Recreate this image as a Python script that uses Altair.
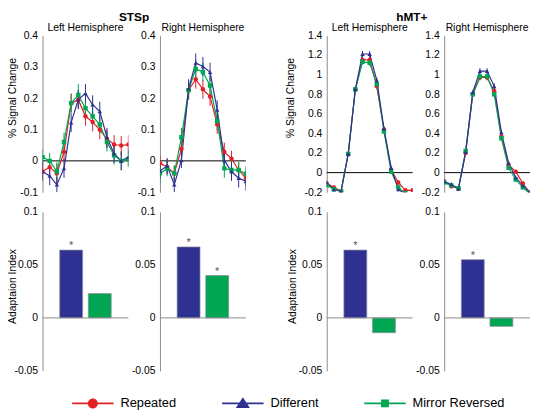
import altair as alt
import pandas as pd

FONT = "Liberation Sans"
RED, BLUE, GREEN = "#e31f26", "#2e3192", "#00a651"

series_names = ["Repeated", "Different", "Mirror Reversed"]
series_colors = [RED, BLUE, GREEN]
series_shapes = ["circle", "triangle-up", "square"]

time = list(range(13))

# ---- STSp, left hemisphere
stsp_l_rep = [-0.034, -0.020, -0.040, 0.028, 0.184, 0.195, 0.142, 0.124, 0.099, 0.070, 0.052, 0.049, 0.052]
stsp_l_dif = [-0.034, -0.048, -0.076, -0.024, 0.122, 0.195, 0.215, 0.179, 0.158, 0.075, 0.023, 0.000, 0.012]
stsp_l_mir = [0.012, 0.000, -0.034, 0.060, 0.184, 0.210, 0.168, 0.142, 0.116, 0.060, 0.018, 0.000, 0.006]
stsp_l_rep_err = [0.025, 0.025, 0.030, 0.030, 0.030, 0.030, 0.030, 0.030, 0.030, 0.030, 0.030, 0.030, 0.030]
stsp_l_dif_err = [0.030, 0.030, 0.025, 0.030, 0.030, 0.030, 0.030, 0.030, 0.030, 0.030, 0.030, 0.030, 0.030]
stsp_l_mir_err = [0.025, 0.025, 0.030, 0.030, 0.030, 0.035, 0.030, 0.030, 0.030, 0.030, 0.030, 0.030, 0.025]

# ---- STSp, right hemisphere
stsp_r_rep = [-0.008, -0.019, -0.040, 0.038, 0.225, 0.260, 0.228, 0.205, 0.116, 0.028, 0.007, -0.029, -0.055]
stsp_r_dif = [-0.032, -0.016, -0.076, 0.002, 0.230, 0.312, 0.301, 0.283, 0.163, 0.002, -0.034, -0.055, -0.065]
stsp_r_mir = [-0.040, -0.024, -0.040, 0.075, 0.225, 0.293, 0.283, 0.240, 0.127, -0.024, -0.029, -0.029, -0.042]
stsp_r_rep_err = [0.025, 0.025, 0.025, 0.030, 0.030, 0.030, 0.030, 0.030, 0.030, 0.030, 0.025, 0.025, 0.025]
stsp_r_dif_err = [0.025, 0.025, 0.025, 0.025, 0.030, 0.030, 0.030, 0.030, 0.030, 0.030, 0.030, 0.030, 0.030]
stsp_r_mir_err = [0.030, 0.025, 0.025, 0.030, 0.030, 0.030, 0.030, 0.030, 0.030, 0.030, 0.030, 0.025, 0.025]

# ---- hMT+, left hemisphere
hmt_l_rep = [-0.11, -0.15, -0.19, 0.19, 0.85, 1.15, 1.15, 0.88, 0.44, 0.03, -0.10, -0.18, -0.18]
hmt_l_dif = [-0.10, -0.17, -0.19, 0.19, 0.85, 1.21, 1.21, 0.94, 0.45, 0.05, -0.17, -0.22, -0.24]
hmt_l_mir = [-0.13, -0.17, -0.19, 0.19, 0.85, 1.13, 1.12, 0.90, 0.42, 0.01, -0.15, -0.21, -0.23]
hmt_l_err = [0.02, 0.02, 0.02, 0.02, 0.02, 0.03, 0.03, 0.03, 0.02, 0.02, 0.02, 0.02, 0.02]

# ---- hMT+, right hemisphere
hmt_r_rep = [-0.09, -0.14, -0.16, 0.20, 0.80, 0.97, 0.97, 0.83, 0.37, 0.08, 0.01, -0.11, -0.21]
hmt_r_dif = [-0.09, -0.12, -0.165, 0.21, 0.82, 1.035, 1.035, 0.88, 0.41, 0.10, -0.05, -0.13, -0.20]
hmt_r_mir = [-0.10, -0.13, -0.16, 0.22, 0.80, 0.98, 0.98, 0.80, 0.35, 0.05, -0.07, -0.15, -0.22]
hmt_r_err = [0.02, 0.02, 0.02, 0.02, 0.02, 0.03, 0.03, 0.03, 0.02, 0.02, 0.02, 0.02, 0.02]

# ---- Adaptation index bars
bar_conditions = ["Different", "Mirror Reversed"]
bar_positions = [1, 2]
bar_colors = [BLUE, GREEN]
bar_stsp_l = [0.064, 0.023]
bar_stsp_r = [0.067, 0.040]
bar_hmt_l = [0.064, -0.014]
bar_hmt_r = [0.055, -0.008]
star_stsp_l = ["*", ""]
star_stsp_r = ["*", "*"]
star_hmt_l = ["*", ""]
star_hmt_r = ["*", ""]

# legend symbols: a line with the marker in the middle (unit box -1..1)
LINE = "M-1,-0.045 L1,-0.045 L1,0.045 L-1,0.045 Z "
legend_paths = [
    LINE + "M-0.24,0 A0.24,0.24 0 1,1 0.24,0 A0.24,0.24 0 1,1 -0.24,0 Z",
    LINE + "M0,-0.3 L0.34,0.22 L-0.34,0.22 Z",
    LINE + "M-0.19,-0.19 L0.19,-0.19 L0.19,0.19 L-0.19,0.19 Z",
]


def line_df(rep, dif, mir, erep, edif, emir):
    rows = []
    # drawing order: red, green, blue (blue on top)
    for name, vals, errs, col, shp in [
        ("Repeated", rep, erep, RED, "circle"),
        ("Mirror Reversed", mir, emir, GREEN, "square"),
        ("Different", dif, edif, BLUE, "triangle-up"),
    ]:
        for t, v, e in zip(time, vals, errs):
            rows.append(dict(t=t, v=v, lo=v - e, hi=v + e, series=name, col=col, shp=shp))
    return pd.DataFrame(rows)


def fmt_expr():
    return "datum.value < 0 ? '-' + format(-datum.value, '~g') : format(datum.value, '~g')"


def y_axis(values, title, tx, ty):
    return alt.Axis(
        values=values, labelExpr=fmt_expr(), title=title, titleX=tx, titleY=ty,
        titleAngle=270, titleBaseline="middle", titleAlign="center",
    )


W = 87
HT = 159
HB = 161


def top_panel(df, ydom, yvals, title, ytitle, tx, legend=False):
    xs = alt.Scale(domain=[0, 12], nice=False, zero=False)
    ys = alt.Scale(domain=ydom, nice=False, zero=False)
    ax = y_axis(yvals, ytitle, tx, 63)
    base = alt.Chart(df)
    x = alt.X("t:Q", scale=xs, axis=None)
    zero = alt.Chart(pd.DataFrame({"a": [0], "b": [12], "z": [0]})).mark_rule(
        color="black", strokeWidth=1
    ).encode(
        x=alt.X("a:Q", scale=xs, axis=None), x2="b:Q",
        y=alt.Y("z:Q", scale=ys, axis=ax),
    )
    err = base.mark_rule(strokeWidth=1, clip=True).encode(
        x=x, y=alt.Y("lo:Q", scale=ys, axis=ax), y2="hi:Q",
        color=alt.Color("col:N", scale=None),
    )
    line = base.mark_line(strokeWidth=1.2, clip=True).encode(
        x=x, y=alt.Y("v:Q", scale=ys, axis=ax),
        color=alt.Color("col:N", scale=None), detail="series:N",
    )
    pts = base.mark_point(filled=True, size=20, opacity=1, clip=True).encode(
        x=x, y=alt.Y("v:Q", scale=ys, axis=ax),
        color=alt.Color("col:N", scale=None),
        shape=alt.Shape("shp:N", scale=None),
    )
    layers = [zero, err, line, pts]
    if legend:
        leg_df = pd.DataFrame({"series": series_names, "t": [0, 0, 0], "v": [0, 0, 0]})
        lg = alt.Legend(title=None, orient="none", legendX=30, legendY=352,
                        direction="horizontal", symbolSize=1764, labelOffset=7,
                        columnPadding=46, labelFontSize=13, labelFont=FONT,
                        labelColor="black", symbolOpacity=1, symbolStrokeWidth=0)
        hidden = alt.Chart(leg_df).mark_point(filled=True, opacity=0).encode(
            x=x, y=alt.Y("v:Q", scale=ys, axis=ax),
            color=alt.Color("series:N", scale=alt.Scale(domain=series_names, range=series_colors), legend=lg),
            shape=alt.Shape("series:N", scale=alt.Scale(domain=series_names, range=legend_paths), legend=lg),
        )
        layers.append(hidden)
    return alt.layer(*layers).properties(
        width=W, height=HT,
        title=alt.TitleParams(title, fontSize=10.5, fontWeight="normal", font=FONT,
                              offset=-3, anchor="middle", color="black", frame="group"),
    )


def bar_panel(vals, stars, ytitle, tx):
    df = pd.DataFrame({"cond": bar_conditions, "pos": bar_positions, "v": vals,
                       "col": bar_colors, "star": stars})
    xs = alt.Scale(domain=[0, 3], nice=False, zero=False)
    ys = alt.Scale(domain=[-0.05, 0.1], nice=False, zero=False)
    ax = y_axis([-0.05, 0, 0.05, 0.1], ytitle, tx, 75)
    base = alt.Chart(df).transform_calculate(
        x0="datum.pos - 0.4", x1="datum.pos + 0.4", zero="0"
    )
    bars = base.mark_bar(stroke="#8a8a9a", strokeWidth=0.7).encode(
        x=alt.X("x0:Q", scale=xs, axis=None), x2="x1:Q",
        y=alt.Y("v:Q", scale=ys, axis=ax), y2="zero:Q",
        color=alt.Color("col:N", scale=None),
    )
    zero = alt.Chart(pd.DataFrame({"a": [0], "b": [3], "z": [0]})).mark_rule(
        color="#8c8c8c", strokeWidth=1
    ).encode(
        x=alt.X("a:Q", scale=xs, axis=None), x2="b:Q",
        y=alt.Y("z:Q", scale=ys, axis=ax),
    )
    star = alt.Chart(df).transform_filter("datum.star != ''").mark_text(
        baseline="alphabetic", dy=-1, fontSize=11, font=FONT, color="#555555"
    ).encode(
        x=alt.X("pos:Q", scale=xs, axis=None),
        y=alt.Y("v:Q", scale=ys, axis=ax),
        text="star:N",
    )
    return alt.layer(bars, zero, star).properties(width=W, height=HB)


t1 = top_panel(line_df(stsp_l_rep, stsp_l_dif, stsp_l_mir, stsp_l_rep_err, stsp_l_dif_err, stsp_l_mir_err),
               [-0.1, 0.4], [-0.1, 0, 0.1, 0.2, 0.3, 0.4], "Left Hemisphere", "% Signal Change", -30, legend=True)
t2 = top_panel(line_df(stsp_r_rep, stsp_r_dif, stsp_r_mir, stsp_r_rep_err, stsp_r_dif_err, stsp_r_mir_err),
               [-0.1, 0.4], [-0.1, 0, 0.1, 0.2, 0.3, 0.4], "Right Hemisphere", "", -30)
t3 = top_panel(line_df(hmt_l_rep, hmt_l_dif, hmt_l_mir, hmt_l_err, hmt_l_err, hmt_l_err),
               [-0.2, 1.4], [-0.2, 0, 0.2, 0.4, 0.6, 0.8, 1, 1.2, 1.4], "Left Hemisphere", "% Signal Change", -37)
t4 = top_panel(line_df(hmt_r_rep, hmt_r_dif, hmt_r_mir, hmt_r_err, hmt_r_err, hmt_r_err),
               [-0.2, 1.4], [-0.2, 0, 0.2, 0.4, 0.6, 0.8, 1, 1.2, 1.4], "Right Hemisphere", "", -37)

b1 = bar_panel(bar_stsp_l, star_stsp_l, "Adaptaion Index", -30)
b2 = bar_panel(bar_stsp_r, star_stsp_r, "", -30)
b3 = bar_panel(bar_hmt_l, star_hmt_l, "Adaptaion Index", -35)
b4 = bar_panel(bar_hmt_r, star_hmt_r, "", -35)

g1 = alt.concat(t1, t2, b1, b2, columns=2, spacing={"row": 20, "column": 32}, bounds="flush",
                title=alt.TitleParams("STSp", fontSize=12, fontWeight="bold", font=FONT,
                                      anchor="middle", offset=-1, dx=7, color="black"))
g2 = alt.concat(t3, t4, b3, b4, columns=2, spacing={"row": 20, "column": 32}, bounds="flush",
                title=alt.TitleParams("hMT+", fontSize=12, fontWeight="bold", font=FONT,
                                      anchor="middle", offset=-1, dx=4, color="black"))

chart = alt.hconcat(g1, g2, spacing=39).properties(padding=0).configure(
    font=FONT,
    view=alt.ViewConfig(stroke=None),
    axis=alt.AxisConfig(
        domainColor="#8c8c8c", domainWidth=1, ticks=False, labelPadding=5,
        labelFont=FONT, labelFontSize=10.5, labelColor="black",
        titleFont=FONT, titleFontSize=10.5, titleFontWeight="normal", titleColor="black",
        grid=False,
    ),
)

chart.save("out.html", embed_options={"renderer": "svg", "actions": False})
